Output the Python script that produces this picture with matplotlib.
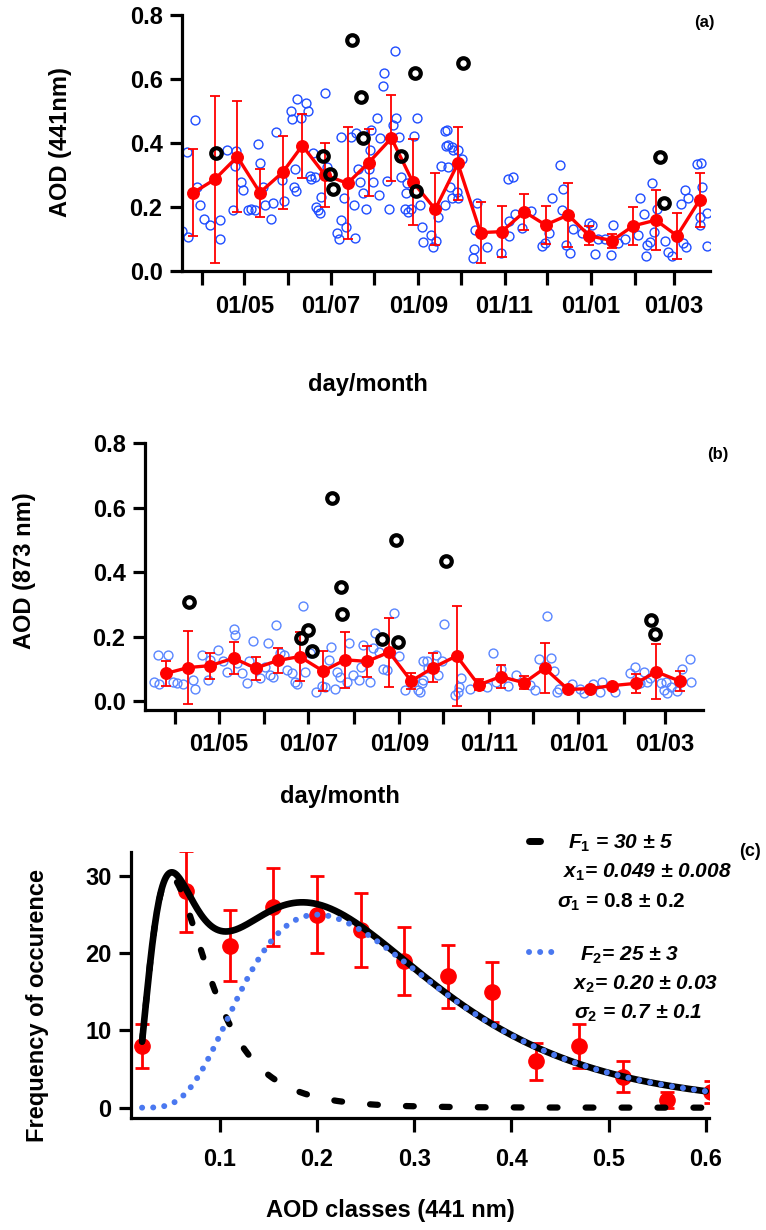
import numpy as np
import pandas as pd
import matplotlib
matplotlib.use("Agg")
import matplotlib.pyplot as plt
import matplotlib.dates as mdates
from matplotlib.lines import Line2D
from matplotlib.ticker import FuncFormatter, FormatStrFormatter

plt.rcParams["font.family"] = ["Liberation Sans", "DejaVu Sans"]
plt.rcParams["font.weight"] = "bold"
plt.rcParams["axes.labelweight"] = "bold"
plt.rcParams["mathtext.fontset"] = "custom"
plt.rcParams["mathtext.it"] = "Liberation Sans:italic:bold"
plt.rcParams["mathtext.rm"] = "Liberation Sans:bold"
plt.rcParams["mathtext.bf"] = "Liberation Sans:bold"

# ---- data: days counted from 1 April ----
START = pd.Timestamp("2013-04-01")

# (a) AOD 441 nm, daily values
a_day = [-14.1, -9.9, -10.4, -4.7, -3.5, -1.6, 1.4, 5.4, 12.5, 13, 17.9, 24.3, 23.6, 27.8, 29,
         21.9, 32.5, 34.9, 37.2, 39.6, 40.8, 43.1, 44.8, 49, 50.2, 52.6, 56.6, 58, 62.7, 63.6,
         65.5, 65, 66.7, 67.4, 73.8, 75, 70.2, 76.1, 76.9, 80.1, 78.5, 80.9, 82, 83.2, 83.9,
         86.8, 88.4, 98.5, 98.1, 100.2, 102.1, 95.7, 96.9, 105.6, 109.1, 110.3, 111.5, 108.4,
         107.5, 113.9, 116.2, 118.6, 118.1, 120.9, 124.9, 119.3, 124, 125.6, 128, 128.7, 136.3,
         137.4, 139.1, 135.1, 131.1, 132, 140.5, 143.3, 145.7, 148, 149.9, 152.3, 153.9, 155.6,
         156.3, 161.7, 163.4, 165.7, 166.9, 169.2, 171.6, 172.8, 174, 145.2, 144,
         173, 173.7, 176.6, 177.7, 181.3, 183.6, 175.4, 176.6, 180.1, 181.3, 171.9, 192.6, 191.9,
         194.2, 193.1, 201.3, 211.5, 216.2, 220.2, 217.1, 217.4, 221.3, 226.5, 232.7, 240.7,
         242.6, 245.4, 247.8, 253.2, 254.4, 255.6, 257.2, 260.4, 262.6, 268.5, 273.7, 275.6,
         278, 280.3, 285, 290.9, 289, 294.4, 299.1, 309.8, 312.8, 308.6, 313.8, 314.5, 316.9,
         318.5, 320, 321.6, 327.5, 329.3, 332.6, 338.7, 340.4, 342.1, 341.8, 344, 349.9, 352.9,
         353.4, 352.2, 352.2, 356.9, 357.5]
a_aod = [0.125, 0.107, 0.373, 0.472, 0.264, 0.206, 0.163, 0.144, 0.159, 0.1, 0.378, 0.376, 0.328,
         0.279, 0.253, 0.191, 0.191, 0.193, 0.191, 0.397, 0.339, 0.264, 0.206, 0.161, 0.214,
         0.435, 0.284, 0.22, 0.501, 0.475, 0.318, 0.261, 0.251, 0.536, 0.524, 0.501, 0.479,
         0.297, 0.286, 0.295, 0.368, 0.201, 0.191, 0.18, 0.23, 0.557, 0.326, 0.159, 0.418,
         0.227, 0.139, 0.118, 0.099, 0.42, 0.43, 0.318, 0.279, 0.102, 0.206, 0.245, 0.193,
         0.378, 0.318, 0.279, 0.238, 0.441, 0.477, 0.415, 0.578, 0.62, 0.689, 0.477, 0.418,
         0.456, 0.282, 0.193, 0.295, 0.193, 0.185, 0.193, 0.422, 0.477, 0.206, 0.139, 0.09,
         0.113, 0.074, 0.095, 0.17, 0.328, 0.439, 0.391, 0.326, 0.274, 0.243,
         0.441, 0.394, 0.389, 0.378, 0.378, 0.349, 0.264, 0.227, 0.248, 0.227, 0.206, 0.068,
         0.04, 0.214, 0.128, 0.074, 0.057, 0.286, 0.293, 0.157, 0.109, 0.178, 0.133, 0.189,
         0.078, 0.086, 0.12, 0.227, 0.331, 0.191, 0.255, 0.081, 0.057, 0.13, 0.12, 0.149,
         0.144, 0.053, 0.099, 0.099, 0.144, 0.05, 0.086, 0.099, 0.227, 0.178, 0.113, 0.047,
         0.081, 0.092, 0.274, 0.123, 0.193, 0.095, 0.06, 0.047, 0.209, 0.086, 0.074, 0.253,
         0.227, 0.334, 0.336, 0.261, 0.17, 0.144, 0.078, 0.182]

a_out_day = [9.7, 106, 112.2, 113.9, 150.4, 85.6, 90.7, 92.6, 140.5, 151.6, 184.4, 323.9, 327]
a_out_aod = [0.370, 0.722, 0.543, 0.416, 0.618, 0.360, 0.303, 0.255, 0.360, 0.25, 0.651, 0.357, 0.213]

a_mean_day = [-6, 9, 25, 41, 57, 71, 87, 103, 118, 134, 149, 165, 181, 197, 212, 228, 243, 259,
              274, 290, 305, 321, 336, 352]
a_mean = [0.245, 0.286, 0.357, 0.245, 0.308, 0.392, 0.30, 0.274, 0.339, 0.415, 0.279, 0.193,
          0.336, 0.12, 0.123, 0.185, 0.144, 0.175, 0.110, 0.095, 0.141, 0.159, 0.110, 0.222]
a_sd = [0.135, 0.261, 0.173, 0.075, 0.114, 0.1, 0.1, 0.175, 0.106, 0.135, 0.134, 0.112,
        0.115, 0.095, 0.079, 0.057, 0.059, 0.101, 0.03, 0.022, 0.06, 0.094, 0.071, 0.084]

# (b) AOD 873 nm, daily values
b_day = [-14.3, -10.7, -11.4, -4.5, -1.1, 1.6, 5.2, 12.5, 13.9, 18.2, 22.7, 23.9, 29.5, 33,
         35.7, 40.2, 40.9, 42, 45.5, 49.3, 50.7, 53.4, 58, 61.4, 63.2, 64.8, 67, 68.9, 71.6,
         74.3, 76.1, 79.5, 81.8, 83, 87, 88.6, 92, 96.1, 100, 102.3, 105.2, 106.1, 109.1,
         110.2, 112.5, 117, 118.9, 121.6, 125.7, 126.6, 128.4, 133, 135.2, 136.4, 139.3, 142,
         144.3, 149.3, 153, 156.8, 165.9, 169.3, 168.2,
         167, 169.3, 171.6, 172.7, 177.9, 179.5, 181.8, 183.6, 190.9, 193.2, 193.9, 195.2,
         201.3, 212.5, 216.6, 218.9, 222, 227.3, 232.5, 242, 245.5, 248.4, 253.4, 256.1,
         258.6, 260.2, 262, 270.4, 276.1, 278.9, 284.8, 290.9, 289.8, 300, 310.2, 313.6,
         319.8, 317, 321.6, 323.9, 333, 334.8, 338, 342, 345.5, 350.7, 351.6, 335.2, 331.1]
b_aod = [0.06, 0.053, 0.143, 0.143, 0.06, 0.055, 0.053, 0.065, 0.039, 0.143, 0.065, 0.128,
         0.159, 0.123, 0.091, 0.223, 0.204, 0.117, 0.088, 0.057, 0.125, 0.185, 0.071, 0.107,
         0.18, 0.081, 0.076, 0.237, 0.148, 0.143, 0.097, 0.086, 0.06, 0.053, 0.296, 0.091,
         0.148, 0.029, 0.047, 0.045, 0.128, 0.169, 0.036, 0.091, 0.076, 0.06, 0.18, 0.081,
         0.065, 0.107, 0.174, 0.06, 0.164, 0.211, 0.151, 0.099, 0.097, 0.273, 0.14, 0.034,
         0.034, 0.123, 0.055,
         0.029, 0.065, 0.123, 0.102, 0.143, 0.081, 0.123, 0.239, 0.019, 0.029, 0.045, 0.073,
         0.036, 0.045, 0.148, 0.06, 0.099, 0.047, 0.081, 0.05, 0.034, 0.13, 0.265, 0.135,
         0.094, 0.029, 0.036, 0.053, 0.039, 0.026, 0.053, 0.06, 0.029, 0.029, 0.086, 0.107,
         0.091, 0.055, 0.06, 0.071, 0.034, 0.06, 0.045, 0.032, 0.099, 0.13, 0.06, 0.024, 0.055]

b_out_day = [9.8, 106.8, 150.7, 113.2, 113.6, 85.7, 90.9, 93.2, 140.9, 151.8, 184.8, 324.3, 327.3]
b_out_aod = [0.307, 0.631, 0.498, 0.353, 0.271, 0.195, 0.221, 0.156, 0.192, 0.182, 0.434, 0.252, 0.209]

b_mean_day = [-6, 9, 24, 40, 55, 70, 85, 101, 116, 131, 146, 161, 176, 192, 207, 222, 238,
              252, 268, 283, 298, 314, 328, 344]
b_mean = [0.086, 0.104, 0.110, 0.133, 0.102, 0.126, 0.138, 0.093, 0.128, 0.123, 0.152, 0.062,
          0.104, 0.140, 0.050, 0.076, 0.057, 0.102, 0.036, 0.039, 0.048, 0.055, 0.091, 0.062]
b_sd = [0.039, 0.112, 0.04, 0.05, 0.036, 0.04, 0.076, 0.063, 0.087, 0.047, 0.107, 0.026,
        0.046, 0.155, 0.017, 0.035, 0.02, 0.078, 0.006, 0.006, 0.006, 0.029, 0.086, 0.031]

# (c) frequency of AOD classes and the two log-normal modes
c_class = [0.02, 0.065, 0.11, 0.155, 0.2, 0.245, 0.29, 0.335, 0.38, 0.425, 0.47, 0.515, 0.56, 0.605]
c_freq = [8, 28, 21, 26, 25, 23, 19, 17, 15, 6, 8, 4, 1, 2]
c_err = [2.8, 5.3, 4.6, 5.1, 5.0, 4.8, 4.4, 4.1, 3.9, 2.4, 2.8, 2.0, 1.0, 1.4]
F1, X1, S1 = 30, 0.049, 0.8
F2, X2, S2 = 25, 0.20, 0.7

W, H = 766, 1230
FS = 17
BLUE_A = "#1f4dff"
BLUE_B = "#5a86ff"
DOT_BLUE = "#4a78f0"


def fx(px):
    return px / W


def fy(py):
    return 1 - py / H


def to_num(days):
    return mdates.date2num(START.to_pydatetime()) + np.asarray(days, dtype=float)


def month_label(x, pos):
    d = mdates.num2date(x)
    return d.strftime("%d/%m") if d.month % 2 == 1 else ""


def style_axes(ax):
    for s in ["top", "right"]:
        ax.spines[s].set_visible(False)
    for s in ["left", "bottom"]:
        ax.spines[s].set_linewidth(2.3)
    ax.tick_params(axis="both", direction="out", width=2.3, labelsize=FS, pad=5)
    ax.tick_params(axis="y", length=9)
    ax.tick_params(axis="x", length=10)


def time_panel(ax, day, aod, out_day, out_aod, mean_day, mean, sd, blue, xlim, ylim):
    ax.plot(to_num(day), aod, "o", ms=6.4, mfc="none", mec=blue, mew=1.0, zorder=2)
    ax.errorbar(to_num(mean_day), mean, yerr=sd, color="red", lw=2.4, marker="o", ms=8.3,
                elinewidth=1.3, capsize=3.5, capthick=1.3, zorder=3)
    ax.plot(to_num(out_day), out_aod, "o", ms=7.6, mfc="none", mec="black", mew=3.0, zorder=4)
    ax.set_xlim(to_num(xlim[0]), to_num(xlim[1]))
    ax.set_ylim(*ylim)
    ax.set_yticks([0.0, 0.2, 0.4, 0.6, 0.8])
    ax.yaxis.set_major_formatter(FormatStrFormatter("%.1f"))
    ax.xaxis.set_major_locator(mdates.MonthLocator())
    ax.xaxis.set_major_formatter(FuncFormatter(month_label))
    style_axes(ax)


fig = plt.figure(figsize=(W / 100, H / 100), dpi=100)

# ---- (a) ----
ax_a = fig.add_axes([fx(182), fy(271), fx(710) - fx(182), (271 - 15) / H])
time_panel(ax_a, a_day, a_aod, a_out_day, a_out_aod, a_mean_day, a_mean, a_sd, BLUE_A,
           (-14.1, 359.3), (0, 0.8))
ax_a.tick_params(axis="x", pad=7)
fig.text(fx(61), fy(142), "AOD (441nm)", rotation=90, ha="center", va="center", fontsize=FS)
fig.text(fx(368), fy(384), "day/month", ha="center", va="center", fontsize=FS)
fig.text(fx(704), fy(22), "(a)", ha="center", va="center", fontsize=12)

# ---- (b) ----
ax_b = fig.add_axes([fx(145), fy(709.5), fx(703) - fx(145), (709.5 - 443) / H])
time_panel(ax_b, b_day, b_aod, b_out_day, b_out_aod, b_mean_day, b_mean, b_sd, BLUE_B,
           (-20.4, 359.9), (-0.026, 0.8))
ax_b.tick_params(axis="x", pad=7)
fig.text(fx(25), fy(571), "AOD (873 nm)", rotation=90, ha="center", va="center", fontsize=FS)
fig.text(fx(340), fy(797), "day/month", ha="center", va="center", fontsize=FS)
fig.text(fx(718), fy(455), "(b)", ha="center", va="center", fontsize=12)

# ---- (c) ----
ax_c = fig.add_axes([fx(131), fy(1117.7), fx(709) - fx(131), (1117.7 - 851.7) / H])
ax_c.errorbar(c_class, c_freq, yerr=c_err, fmt="o", color="red", ms=11, elinewidth=2,
              capsize=5, capthick=2, zorder=2)

xs = np.linspace(0.02, 0.6, 500)
mode1 = F1 * np.exp(-(np.log(xs / X1) / S1) ** 2)
mode2 = F2 * np.exp(-(np.log(xs / X2) / S2) ** 2)
ax_c.plot(xs, mode1, color="black", lw=4.5, linestyle=(0, (1.25, 4.5)),
          dash_capstyle="round", zorder=4)
ax_c.plot(xs, mode1 + mode2, color="black", lw=4.8, solid_capstyle="round", zorder=5)
ax_c.plot(xs, mode2, color=DOT_BLUE, lw=4.3, linestyle=(0, (0.01, 1.85)),
          dash_capstyle="round", zorder=6)

ax_c.set_xlim(0.0086, 0.6033)
ax_c.set_ylim(-1.3, 33.15)
ax_c.set_xticks([0.1, 0.2, 0.3, 0.4, 0.5, 0.6])
ax_c.set_yticks([0, 10, 20, 30])
ax_c.xaxis.set_major_formatter(FormatStrFormatter("%.1f"))
style_axes(ax_c)
ax_c.tick_params(axis="x", pad=12)
fig.text(fx(38), fy(1005), "Frequency of occurence", rotation=90, ha="center", va="center",
         fontsize=FS)
fig.text(fx(390), fy(1210), "AOD classes (441 nm)", ha="center", va="center", fontsize=FS)

# legend of the fitted modes
fig.add_artist(Line2D([fx(529), fx(540)], [fy(841), fy(841)], color="black", lw=5,
                      solid_capstyle="round"))
fig.add_artist(Line2D([fx(529), fx(561)], [fy(952), fy(952)], color=DOT_BLUE, lw=4.3,
                      linestyle=(0, (0.01, 1.85)), dash_capstyle="round"))
kw = dict(ha="left", va="center", fontsize=15, fontweight="bold")
fig.text(fx(568), fy(843), r"$F_1$ = 30 ± 5", style="italic", **kw)
fig.text(fx(563), fy(872), r"$x_1$= 0.049 ± 0.008", style="italic", **kw)
fig.text(fx(557), fy(902), r"$\sigma_1$ = 0.8 ± 0.2", **kw)
fig.text(fx(580), fy(955), r"$F_2$= 25 ± 3", style="italic", **kw)
fig.text(fx(573), fy(984), r"$x_2$= 0.20 ± 0.03", style="italic", **kw)
fig.text(fx(574), fy(1013), r"$\sigma_2$ = 0.7 ± 0.1", style="italic", **kw)
fig.text(fx(750), fy(852), "(c)", ha="center", va="center", fontsize=13)

fig.savefig("out.png", dpi=100)
